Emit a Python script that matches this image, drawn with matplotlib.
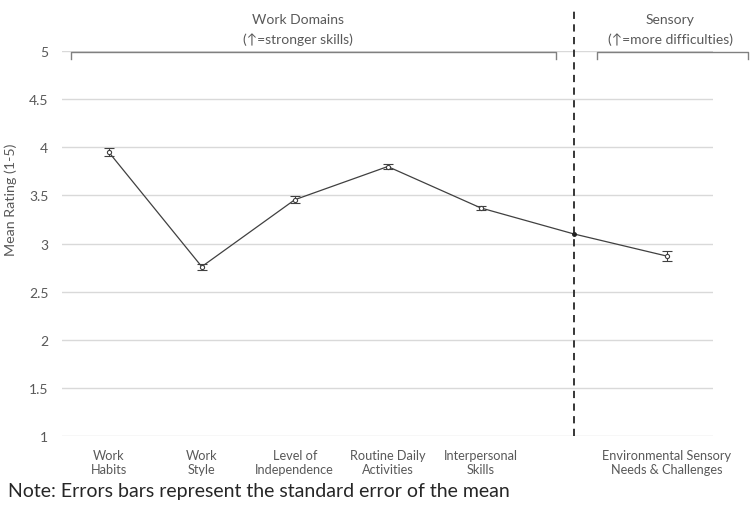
import matplotlib
matplotlib.use('Agg')
import matplotlib.pyplot as plt

plt.rcParams['font.family'] = ['Lato', 'DejaVu Sans']

# Data
categories = ['Work\nHabits', 'Work\nStyle', 'Level of\nIndependence', 'Routine Daily\nActivities',
              'Interpersonal\nSkills', '', 'Environmental Sensory\nNeeds & Challenges']
means = [3.95, 2.76, 3.455, 3.80, 3.37, 3.10, 2.87]
sems = [0.04, 0.03, 0.035, 0.03, 0.025, 0.0, 0.05]
y_ticks = [1, 1.5, 2, 2.5, 3, 3.5, 4, 4.5, 5]
y_tick_labels = ['1', '1.5', '2', '2.5', '3', '3.5', '4', '4.5', '5']

text_grey = '#595959'
line_grey = '#404040'

fig = plt.figure(figsize=(7.5, 5.1), dpi=100)
ax = fig.add_axes([0.083, 0.143, 0.868, 0.755])

x = list(range(len(categories)))
ax.plot(x, means, color=line_grey, lw=0.9, zorder=3)
err_x = [i for i in x if sems[i] > 0]
ax.errorbar(err_x, [means[i] for i in err_x], yerr=[sems[i] for i in err_x], fmt='o',
            ms=3, mfc='white', mec=line_grey, mew=0.8, ecolor=line_grey, elinewidth=0.8,
            capsize=3.5, capthick=0.8, zorder=4)
# the joining point between the two groups has no error bar
ax.plot([5], [means[5]], 'o', ms=2.5, color='#202020', zorder=4)

ax.set_xlim(-0.5, 6.5)
ax.set_ylim(1, 5)
ax.set_yticks(y_ticks)
ax.set_yticklabels(y_tick_labels)
ax.set_xticks(x)
ax.set_xticklabels(categories)
ax.tick_params(axis='both', length=0, colors=text_grey)
ax.tick_params(axis='y', labelsize=10, pad=10)
ax.tick_params(axis='x', labelsize=9.2, pad=9)
ax.yaxis.grid(True, color='#d9d9d9', lw=1)
ax.set_axisbelow(True)
for s in ax.spines.values():
    s.set_visible(False)

# dashed separator between work domains and sensory
ax.plot([5, 5], [1, 5.45], color='#262626', lw=1.3, ls=(0, (4, 3)), clip_on=False, zorder=5)

# group brackets
br_col = '#808080'
for x0, x1 in [(-0.41, 4.81), (5.25, 6.87)]:
    ax.plot([x0, x0, x1, x1], [4.92, 4.99, 4.99, 4.92], color=br_col, lw=1, clip_on=False)

ax.text(2.03, 5.33, 'Work Domains', ha='center', va='center', fontsize=10, color=text_grey)
ax.text(2.03, 5.125, '(\u2191=stronger skills)', ha='center', va='center', fontsize=10, color=text_grey)
ax.text(6.04, 5.33, 'Sensory', ha='center', va='center', fontsize=10, color=text_grey, clip_on=False)
ax.text(6.04, 5.125, '(\u2191=more difficulties)', ha='center', va='center', fontsize=10,
        color=text_grey, clip_on=False)

fig.text(0.014, 1 - 200 / 510, 'Mean Rating (1-5)', rotation=90, ha='center', va='center',
         fontsize=10.3, color=text_grey)
fig.text(0.011, 1 - 492 / 510, 'Note: Errors bars represent the standard error of the mean',
         ha='left', va='center', fontsize=14, color='#262626')

fig.savefig('out.png', dpi=100)
